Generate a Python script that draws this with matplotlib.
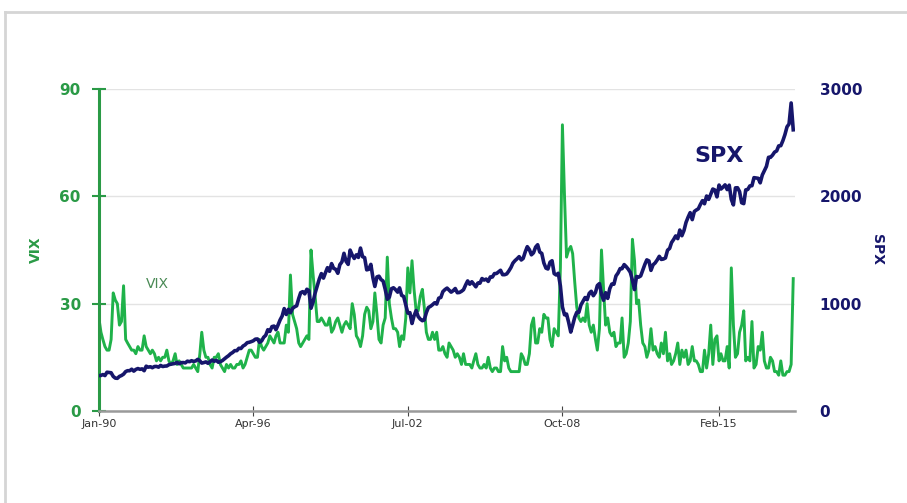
import matplotlib.pyplot as plt
import matplotlib.dates as mdates
from matplotlib.lines import Line2D
import pandas as pd
import numpy as np

# monthly values, Jan 1990 .. Feb 2018
vix = [
    26, 22, 20, 18, 17, 17, 20, 33, 31, 30, 24, 25,
    35, 20, 19, 18, 17, 17, 16, 18, 17, 17, 21, 18,
    17, 16, 17, 16, 14, 15, 14, 15, 15, 17, 14, 13,
    14, 16, 13, 14, 13, 12, 12, 12, 12, 12, 13, 12,
    11, 16, 22, 17, 15, 15, 13, 12, 15, 15, 16, 13,
    12, 11, 13, 12, 13, 12, 12, 13, 13, 14, 12, 13,
    15, 17, 17, 16, 15, 15, 20, 18, 17, 18, 19, 21,
    20, 19, 21, 22, 19, 19, 19, 24, 22, 38, 27, 25,
    23, 19, 18, 19, 20, 21, 20, 45, 38, 32, 25, 25,
    26, 25, 24, 24, 26, 22, 23, 25, 26, 24, 22, 24,
    25, 24, 23, 30, 27, 21, 20, 18, 21, 27, 29, 28,
    23, 25, 33, 27, 20, 19, 24, 26, 43, 30, 26, 23,
    23, 22, 18, 21, 20, 26, 40, 33, 42, 34, 28, 28,
    32, 34, 29, 22, 20, 20, 22, 20, 22, 17, 17, 18,
    16, 15, 19, 18, 17, 15, 16, 15, 13, 16, 13, 13,
    13, 12, 14, 16, 13, 12, 12, 13, 12, 15, 12, 11,
    12, 12, 11, 11, 18, 14, 15, 12, 11, 11, 11, 11,
    11, 16, 15, 13, 13, 16, 24, 26, 19, 19, 23, 22,
    27, 26, 26, 20, 18, 23, 22, 21, 40, 80, 60, 43,
    45, 46, 44, 36, 29, 26, 25, 26, 25, 30, 24, 22,
    24, 20, 17, 23, 45, 34, 24, 26, 22, 21, 22, 18,
    19, 19, 26, 15, 16, 19, 25, 48, 42, 30, 31, 24,
    19, 18, 15, 17, 23, 17, 18, 16, 15, 19, 16, 22,
    14, 16, 13, 14, 16, 19, 13, 17, 15, 17, 13, 14,
    18, 14, 14, 13, 11, 11, 17, 12, 16, 24, 13, 20,
    21, 14, 16, 14, 14, 18, 12, 40, 24, 15, 16, 22,
    24, 28, 14, 15, 14, 25, 12, 13, 18, 17, 22, 14,
    12, 12, 15, 14, 11, 11, 10, 14, 10, 10, 11, 11,
    13, 37,
]

spx = [
    329, 331, 339, 330, 361, 358, 356, 322, 306, 304, 322, 330,
    343, 367, 375, 375, 389, 371, 387, 395, 388, 392, 375, 417,
    408, 412, 403, 414, 415, 408, 424, 414, 418, 419, 431, 436,
    439, 443, 452, 440, 450, 451, 448, 464, 459, 468, 462, 466,
    481, 467, 446, 451, 457, 444, 458, 475, 463, 472, 454, 459,
    470, 487, 501, 515, 533, 545, 562, 562, 584, 582, 605, 616,
    636, 640, 646, 654, 669, 671, 640, 652, 687, 705, 757, 741,
    786, 791, 757, 801, 848, 885, 954, 899, 947, 915, 955, 970,
    980, 1049, 1102, 1112, 1091, 1134, 1121, 957, 1017, 1099, 1164, 1229,
    1280, 1238, 1286, 1335, 1302, 1373, 1329, 1320, 1283, 1363, 1389, 1469,
    1394, 1366, 1499, 1452, 1421, 1455, 1431, 1518, 1437, 1429, 1315, 1320,
    1366, 1240, 1160, 1249, 1256, 1224, 1211, 1134, 1041, 1060, 1139, 1148,
    1130, 1107, 1147, 1077, 1067, 990, 912, 916, 815, 886, 936, 880,
    856, 841, 848, 917, 964, 975, 990, 1008, 996, 1051, 1058, 1112,
    1131, 1145, 1126, 1107, 1121, 1141, 1102, 1104, 1115, 1130, 1174, 1212,
    1181, 1204, 1181, 1157, 1192, 1191, 1234, 1220, 1229, 1207, 1249, 1248,
    1280, 1281, 1295, 1311, 1270, 1270, 1277, 1304, 1336, 1378, 1401, 1418,
    1438, 1407, 1421, 1482, 1531, 1503, 1455, 1474, 1527, 1549, 1481, 1468,
    1379, 1331, 1323, 1386, 1400, 1280, 1267, 1283, 1165, 969, 896, 903,
    826, 735, 798, 873, 919, 919, 987, 1021, 1057, 1036, 1096, 1115,
    1074, 1104, 1169, 1187, 1089, 1031, 1102, 1049, 1141, 1183, 1181, 1258,
    1286, 1327, 1326, 1364, 1345, 1321, 1292, 1219, 1131, 1253, 1247, 1258,
    1312, 1366, 1408, 1398, 1310, 1362, 1379, 1407, 1441, 1412, 1416, 1426,
    1498, 1515, 1569, 1598, 1631, 1606, 1686, 1633, 1682, 1757, 1806, 1848,
    1783, 1859, 1872, 1884, 1924, 1960, 1931, 2003, 1972, 2018, 2068, 2059,
    1995, 2105, 2068, 2086, 2107, 2063, 2104, 1972, 1920, 2079, 2080, 2044,
    1940, 1932, 2060, 2065, 2097, 2099, 2174, 2171, 2168, 2126, 2199, 2239,
    2279, 2364, 2363, 2384, 2412, 2423, 2470, 2472, 2519, 2575, 2648, 2674,
    2870, 2620,
]

dates = pd.date_range('1990-01-01', periods=len(vix), freq='MS')
tick_dates = pd.to_datetime(['1990-01-01', '1996-04-01', '2002-07-01',
                             '2008-10-01', '2015-02-01'])
tick_labels = ['Jan-90', 'Apr-96', 'Jul-02', 'Oct-08', 'Feb-15']

green = '#1fb24a'
dkgreen = '#2a9a46'
navy = '#16166b'

fig = plt.figure(figsize=(9.07, 5.03), dpi=100)
ax = fig.add_axes([0.109, 0.183, 0.767, 0.640])
ax2 = ax.twinx()

# VIX on left axis
ax.plot(dates, vix, color=green, lw=2.1, zorder=2)
ax.set_ylim(0, 90)
ax.set_yticks([0, 30, 60, 90])
ax.grid(axis='y', color='#e3e3e3', lw=1)
ax.set_xlim(pd.Timestamp('1990-01-01'), pd.Timestamp('2018-02-20'))
ax.set_xticks(tick_dates)
ax.set_xticklabels(tick_labels, fontsize=8, color='#333333',
                   family=['Liberation Sans Narrow', 'DejaVu Sans'])
ax.tick_params(axis='x', direction='inout', length=7, color='#444444', pad=2)
ax.tick_params(axis='y', direction='inout', length=10, width=1.5,
               color=dkgreen, labelcolor=dkgreen, labelsize=11, pad=8)
for lab in ax.get_yticklabels():
    lab.set_fontweight('bold')
ax.set_ylabel('VIX', color=dkgreen, fontsize=10, fontweight='bold', labelpad=12)
ax.spines['left'].set_color(dkgreen)
ax.spines['left'].set_linewidth(2.2)
ax.spines['bottom'].set_color('#9a9a9a')
ax.spines['bottom'].set_linewidth(1.8)
ax.spines['top'].set_visible(False)
ax.spines['right'].set_visible(False)

# SPX on right axis
ax2.plot(dates, spx, color=navy, lw=2.6, zorder=3)
ax2.set_ylim(0, 3000)
ax2.set_yticks([0, 1000, 2000, 3000])
ax2.tick_params(axis='y', length=0, labelcolor=navy, labelsize=11, pad=18)
for lab in ax2.get_yticklabels():
    lab.set_fontweight('bold')
ax2.set_ylabel('SPX', color=navy, fontsize=10, fontweight='bold',
               rotation=270, labelpad=16)
for s in ['top', 'right', 'left', 'bottom']:
    ax2.spines[s].set_visible(False)

ax.text(pd.Timestamp('1991-12-01'), 35.5, 'VIX', color='#4a8a55', fontsize=10,
        family=['Liberation Sans Narrow', 'DejaVu Sans'], va='center')
ax2.text(pd.Timestamp('2014-02-01'), 2380, 'SPX', color=navy, fontsize=16,
         fontweight='bold', va='center')

# light frame around the picture
fig.add_artist(Line2D([0.005, 1.0], [0.976, 0.976], color='#d5d5d5', lw=2))
fig.add_artist(Line2D([0.006, 0.006], [0.0, 0.976], color='#d5d5d5', lw=2))

fig.savefig('out.png', dpi=100)
